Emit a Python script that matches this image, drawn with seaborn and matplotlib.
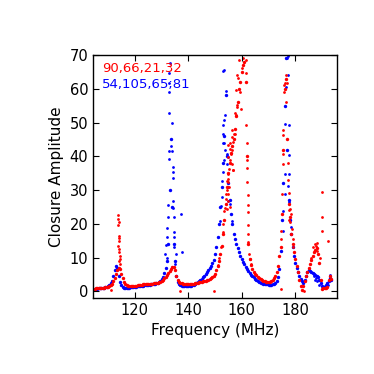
import numpy as np
import pandas as pd
import matplotlib
matplotlib.use("Agg")
import matplotlib.pyplot as plt
import seaborn as sns

# channel frequencies (MHz), 0.5 MHz grid
freq = np.arange(104.5, 193.75, 0.5)

# closure amplitude, triangle 90,66,21,32 (red)
red_amp = [
    0.8, 0.8, 0.85, 0.9, 0.9, 0.95, 1.0, 1.05, 1.1, 1.2,
    1.3, 1.4, 1.6, 1.9, 2.3, 3.0, 4.0, 5.2, 6.3, 7.0,
    6.5, 5.2, 3.8, 2.8, 2.2, 1.9, 1.7, 1.6, 1.55, 1.55,
    1.6, 1.65, 1.7, 1.75, 1.8, 1.9, 2.0, 2.05, 2.1, 2.1,
    2.15, 2.2, 2.2, 2.25, 2.3, 2.35, 2.4, 2.5, 2.6, 2.7,
    2.9, 3.1, 3.4, 3.8, 4.2, 4.7, 5.3, 5.9, 6.5, 7.1,
    7.3, 6.2, 4.6, 3.5, 2.9, 2.6, 2.4, 2.3, 2.2, 2.15,
    2.1, 2.1, 2.15, 2.2, 2.25, 2.3, 2.4, 2.45, 2.55, 2.65,
    2.75, 2.85, 3.0, 3.1, 3.2, 3.35, 3.5, 3.7, 3.85, 4.1,
    4.5, 5.2, 6.2, 7.4, 9.0, 11.0, 13.5, 17, 21, 26,
    31, 35, 38, 41, 43, 45, 48, 52, 56, 60,
    62, 65, 67, 68, 62, 40, 14, 9.5, 7.8, 6.6,
    5.8, 5.2, 4.7, 4.3, 4.0, 3.7, 3.4, 3.2, 3.0, 2.9,
    2.8, 2.8, 2.9, 3.1, 3.4, 3.9, 4.6, 5.6, 7.5, 10.5,
    13, 23, 42, 60, 63, 45, 26, 22, 17, 14,
    11.5, 9.5, 7.6, 5.6, 3.5, 1.5, 0.4, 1.5, 3.0, 4.6,
    5.7, 6.8, 8.0, 9.3, 10.5, 11.5, 12.2, 12.8, 11, 8.5,
    3.5, 0.8, 0.9, 1.0, 1.1, 1.3, 3.5, 4.5, 3.6,
]

# closure amplitude, triangle 54,105,65;81 (blue)
blue_amp = [
    0.7, 0.7, 0.75, 0.8, 0.85, 0.9, 0.95, 1.0, 1.1, 1.2,
    1.35, 1.6, 2.0, 2.5, 3.2, 4.5, 6.2, 7.5, 6.8, 4.5,
    2.8, 1.8, 1.3, 1.05, 1.0, 1.0, 1.05, 1.1, 1.15, 1.2,
    1.25, 1.3, 1.4, 1.45, 1.5, 1.6, 1.65, 1.7, 1.8, 1.85,
    1.9, 1.95, 2.0, 2.05, 2.1, 2.2, 2.3, 2.45, 2.6, 2.8,
    3.1, 3.6, 4.3, 5.3, 6.8, 9.0, 14, 30, 45, 25,
    14, 9, 4.5, 2.8, 2.2, 1.9, 1.7, 1.6, 1.55, 1.5,
    1.5, 1.55, 1.6, 1.7, 1.85, 2.0, 2.2, 2.45, 2.7, 3.0,
    3.3, 3.7, 4.1, 4.6, 5.1, 5.6, 6.2, 6.8, 7.5, 8.3,
    9.3, 11, 13, 16, 20, 25, 31, 38, 46, 58,
    40, 32, 27, 23, 20, 17, 15.5, 14, 12.8, 11.5,
    10.5, 9.6, 8.8, 8.0, 7.3, 6.6, 6.0, 5.4, 4.9, 4.5,
    4.1, 3.7, 3.4, 3.1, 2.8, 2.6, 2.4, 2.3, 2.2, 2.1,
    2.05, 2.0, 2.0, 2.0, 2.05, 2.15, 2.4, 3.0, 4.2, 6.5,
    12, 21, 32, 55, 69, 42, 27, 21, 17, 13,
    10.5, 8.5, 7.0, 5.6, 4.6, 3.7, 3.0, 2.6, 3.3, 4.4,
    5.6, 6.3, 6.0, 5.6, 5.3, 5.1, 4.9, 4.6, 4.2, 3.5,
    2.5, 1.6, 1.2, 1.3, 1.8, 2.6, 3.2, 4.0, 3.3,
]

# additional scattered samples (red)
red_extra_f = [
    113.7, 113.8, 113.9, 113.8, 114.0, 113.9, 114.1, 113.8, 114.0, 114.2, 114.3, 114.4, 113.9, 114.6,
    111.2, 136.9, 149.7, 174.8, 183.1,
    151.2, 151.6, 152.2, 152.8, 153.1, 153.4, 154.0,
    155.3, 155.0, 156.9, 154.8, 154.4, 155.0, 155.4, 154.4, 155.0, 154.0, 155.0, 155.6, 153.7, 154.4,
    155.0, 155.6, 156.3, 156.0, 155.0, 155.6, 156.3, 156.3, 157.5, 156.3, 155.6, 156.9,
    158.2, 157.5, 157.7, 158.8, 158.2, 158.5, 160.6, 161.6, 161.5, 157.9, 158.2, 157.2, 156.6, 159.3, 159.8, 160.2,
    161.7, 161.9, 162.0, 162.05, 162.1, 162.15, 162.2, 162.25, 162.35, 162.4, 162.45, 162.7, 163.1, 163.3,
    174.6, 174.8, 175.2, 175.35, 175.4, 175.6, 175.55, 175.8, 176.1, 175.9, 176.7, 176.9, 176.4,
    177.2, 177.3, 177.5, 177.6, 177.7, 177.9, 178.2, 178.3, 178.6, 179.0, 179.3,
    186.5, 187.2, 187.8, 188.3, 188.0, 190.0, 190.0, 190.0, 192.3, 189.4, 186.0,
]
red_extra_amp = [
    22.5, 21.5, 20.5, 19.5, 16.5, 15.8, 15.0, 13.5, 12.5, 11.5, 10.5, 9.5, 9.0, 8.0,
    0.5, 0.1, 0.1, 0.8, 0.0,
    7.8, 9.8, 13.2, 17.5, 20, 23.9, 28.9,
    36.3, 34.8, 35.8, 33.3, 32.8, 32.3, 30.9, 29.9, 28.9, 27.4, 26.9, 24.9, 24.7, 24.4,
    43.2, 42.3, 41.8, 40.8, 39.8, 38.8, 37.8, 47.7, 46.7, 45.7, 43.8, 44.3,
    55.2, 52.7, 52.2, 68.5, 64.1, 63.1, 69.0, 68.5, 64.6, 59.6, 54.7, 46.7, 35.8, 59.0, 54.0, 66.0,
    49.2, 44.0, 38.8, 36.6, 32.5, 28.4, 25.7, 23.4, 19.7, 17.0, 14.5, 11.0, 9.5, 8.0,
    15.5, 18.0, 28.9, 37.8, 40.8, 46.3, 47.8, 61.1, 61.6, 59.1, 64.0, 61.6, 56.0,
    38, 33, 29, 24, 21, 24.4, 20.5, 23, 18.5, 15.5, 13,
    13, 14, 13.5, 14.2, 12, 29.4, 21.9, 18, 15, 10, 10,
]

# additional scattered samples (blue)
blue_extra_f = [
    133.16, 132.9, 132.8, 132.8, 132.8, 133.8, 133.4, 132.8, 133.9, 132.9, 134.2, 134.2, 134.2,
    134.4, 132.5, 134.4, 132.5, 134.5, 137.3, 132.2, 134.5, 132.2, 134.6, 131.7, 134.7, 137.5,
    131.3, 135.4, 131.9, 135.0,
    153.5, 154.0, 153.7, 153.5, 153.1, 153.1, 152.8, 153.5, 153.7, 154.4, 155.0, 153.5, 154.4,
    152.8, 152.5, 155.0, 152.5, 155.0, 152.3, 155.6, 156.3, 151.9, 153.1,
    175.3, 175.6, 176.0, 176.0, 176.3, 176.5, 176.9, 177.1, 177.1, 177.5, 177.7, 177.5, 177.1,
    177.7, 178.5,
    186.9, 187.3, 187.6, 190.5, 191.2, 192.4, 193.0, 188.2, 189.0,
]
blue_extra_amp = [
    67.6, 64.6, 61.6, 59.1, 52.9, 49.9, 42.9, 41.6, 41.6, 39.3, 36.8, 35.3, 33.6,
    26.9, 25.7, 24.8, 21.9, 21.9, 22.9, 18.9, 17.5, 16.0, 16.0, 13.8, 13.1, 11.5,
    11.0, 11.0, 10.0, 8.0,
    65.6, 59.4, 52.2, 50.7, 49.2, 46.7, 43.8, 43.8, 41.8, 40.8, 39.8, 38.8, 37.8,
    35.3, 32.8, 30.9, 27.9, 26.9, 25.4, 25.9, 20.9, 20.9, 65.2,
    18, 23.9, 28.9, 34.8, 49.7, 60.6, 69.0, 69.6, 64.0, 49.2, 40.3, 34.8, 31.3,
    26.4, 19.0,
    4.5, 3.5, 4.0, 0.9, 1.5, 2.0, 4.8, 3.0, 1.8,
]

labels = ["90,66,21,32", "54,105,65;81"]
colors = ["#ff0000", "#0000ff"]

red_base = pd.DataFrame({"f": freq, "amp": red_amp})
blue_base = pd.DataFrame({"f": freq, "amp": blue_amp})
red_ext = pd.DataFrame({"f": red_extra_f, "amp": red_extra_amp})
blue_ext = pd.DataFrame({"f": blue_extra_f, "amp": blue_extra_amp})

plt.rcParams["font.family"] = ["DejaVu Sans"]
fig = plt.figure(figsize=(3.74, 3.74), dpi=100)
ax = fig.add_axes([0.249, 0.203, 0.652, 0.650])

sns.scatterplot(data=blue_base, x="f", y="amp", ax=ax, color=colors[1],
                s=6, linewidth=0, legend=False)
sns.scatterplot(data=blue_ext, x="f", y="amp", ax=ax, color=colors[1],
                s=4, linewidth=0, legend=False)
sns.scatterplot(data=red_base, x="f", y="amp", ax=ax, color=colors[0],
                s=6, linewidth=0, legend=False)
sns.scatterplot(data=red_ext, x="f", y="amp", ax=ax, color=colors[0],
                s=4, linewidth=0, legend=False)

ax.set_xlim(104.4, 195.6)
ax.set_ylim(-2, 70)
ax.set_xticks([120, 140, 160, 180])
ax.set_yticks([0, 10, 20, 30, 40, 50, 60, 70])
ax.tick_params(direction="in", top=True, right=True, labelsize=10.5, length=4)
ax.set_xlabel("Frequency (MHz)", fontsize=11)
ax.set_ylabel("Closure Amplitude", fontsize=11)
for s in ax.spines.values():
    s.set_linewidth(1.0)
    s.set_color("black")

ax.text(0.035, 0.931, labels[0], color=colors[0], fontsize=9.5,
        transform=ax.transAxes, ha="left", va="baseline")
ax.text(0.035, 0.863, labels[1], color=colors[1], fontsize=9.5,
        transform=ax.transAxes, ha="left", va="baseline")

fig.savefig("out.png", dpi=100)
